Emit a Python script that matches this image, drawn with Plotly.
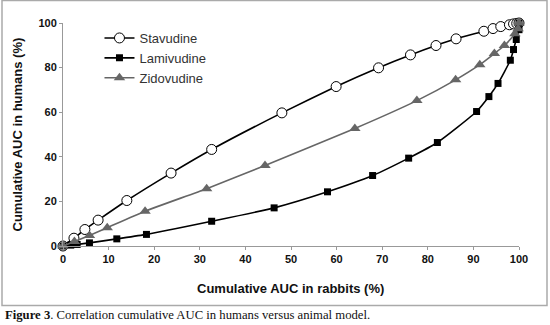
import plotly.graph_objects as go

# Data
stav_x = [0, 2.4, 4.8, 7.7, 14, 23.7, 32.6, 48, 59.9, 69.2, 76.2, 81.8, 86.2, 92.3, 94.3, 96, 97.9, 98.8, 99.5, 100]
stav_y = [0, 3.5, 7.4, 11.6, 20.4, 32.7, 43.3, 59.7, 71.5, 79.9, 85.7, 89.9, 92.9, 96.3, 97.5, 98.4, 99.2, 99.6, 99.8, 100]

lami_x = [0, 1.7, 3.1, 5.8, 11.8, 18.3, 32.6, 46.3, 58, 67.9, 75.8, 82.1, 90.7, 93.4, 95.4, 98.1, 98.8, 99.4, 100, 100]
lami_y = [0, 0.4, 0.7, 1.4, 3.2, 5.2, 11.1, 17.1, 24.3, 31.6, 39.4, 46.4, 60.3, 67, 72.9, 83.3, 88.1, 92.6, 97, 100]

zido_x = [0, 2.5, 5.8, 9.7, 18, 31.5, 44.3, 64, 77.6, 86.1, 91.4, 94.6, 96.8, 99.1, 99.8, 100]
zido_y = [0, 2, 4.7, 8.2, 15.6, 25.7, 36.1, 52.7, 65.2, 74.5, 81.3, 86.3, 89.9, 95.2, 97.4, 100]

x_ticks = [0, 10, 20, 30, 40, 50, 60, 70, 80, 90, 100]
y_ticks = [0, 20, 40, 60, 80, 100]

fig = go.Figure()
fig.add_trace(go.Scatter(
    x=stav_x, y=stav_y, name="Stavudine", mode="lines+markers",
    line=dict(color="black", width=1.6, shape="spline", smoothing=0.5),
    marker=dict(symbol="circle", size=10, color="white", line=dict(color="black", width=1)),
    cliponaxis=False))
fig.add_trace(go.Scatter(
    x=lami_x, y=lami_y, name="Lamivudine", mode="lines+markers",
    line=dict(color="black", width=1.6, shape="spline", smoothing=0.5),
    marker=dict(symbol="square", size=7, color="black"),
    cliponaxis=False))
fig.add_trace(go.Scatter(
    x=zido_x, y=zido_y, name="Zidovudine", mode="lines+markers",
    line=dict(color="#666666", width=1.6, shape="spline", smoothing=0.5),
    marker=dict(symbol="triangle-up", size=10, color="#666666"),
    cliponaxis=False))

axis_font = dict(family="Arial, Liberation Sans, sans-serif", size=11, color="#111111")
title_font = dict(family="Arial, Liberation Sans, sans-serif", size=13, color="#111111")

fig.update_layout(
    width=550, height=325,
    margin=dict(l=63, r=31, t=23, b=79, autoexpand=False),
    paper_bgcolor="white", plot_bgcolor="white",
    showlegend=True,
    legend=dict(x=0.08, y=1.0, xanchor="left", yanchor="top",
                font=dict(family="Arial, Liberation Sans, sans-serif", size=13, color="#333333"),
                bgcolor="rgba(0,0,0,0)", itemwidth=30),
    xaxis=dict(range=[0, 100], tickvals=x_ticks, ticktext=[f"<b>{v}</b>" for v in x_ticks],
               showgrid=False, zeroline=False, showline=True, linecolor="#999999", linewidth=1,
               ticks="outside", ticklen=3, tickcolor="#999999", tickfont=axis_font,
               automargin=False),
    yaxis=dict(range=[0, 100], tickvals=y_ticks, ticktext=[f"<b>{v}</b>" for v in y_ticks],
               showgrid=False, zeroline=False, showline=True, linecolor="#999999", linewidth=1,
               ticks="outside", ticklen=3, tickcolor="#999999", tickfont=axis_font,
               automargin=False),
)

# axis titles placed as annotations at reference positions
fig.add_annotation(xref="paper", yref="paper", x=(290 - 63) / 456, y=(246.5 - 289) / 223,
                   xanchor="center", yanchor="middle", showarrow=False,
                   text="<b>Cumulative AUC in rabbits (%)</b>", font=title_font)
fig.add_annotation(xref="paper", yref="paper", x=(17 - 63) / 456, y=(246.5 - 135) / 223,
                   xanchor="center", yanchor="middle", showarrow=False, textangle=-90,
                   text="<b>Cumulative AUC in humans (%)</b>", font=title_font)

# border box around chart
fig.add_shape(type="rect", xref="paper", yref="paper",
              x0=(2 - 63) / 456, x1=(547 - 63) / 456,
              y0=(246.5 - 306) / 223, y1=(246.5 - 1) / 223,
              line=dict(color="#aaaaaa", width=1.5), layer="below")

fig.add_annotation(xref="paper", yref="paper", x=(3 - 63) / 456, y=(246.5 - 315) / 223,
                   xanchor="left", yanchor="middle", showarrow=False,
                   text="<b>Figure 3</b>. Correlation cumulative AUC in humans versus animal model.",
                   font=dict(family="Liberation Serif, Times New Roman, serif", size=12.7, color="#111111"))

fig.write_html("out.html", config={"displayModeBar": False},
               post_script="document.body.style.margin='0';document.body.style.overflow='hidden';")
